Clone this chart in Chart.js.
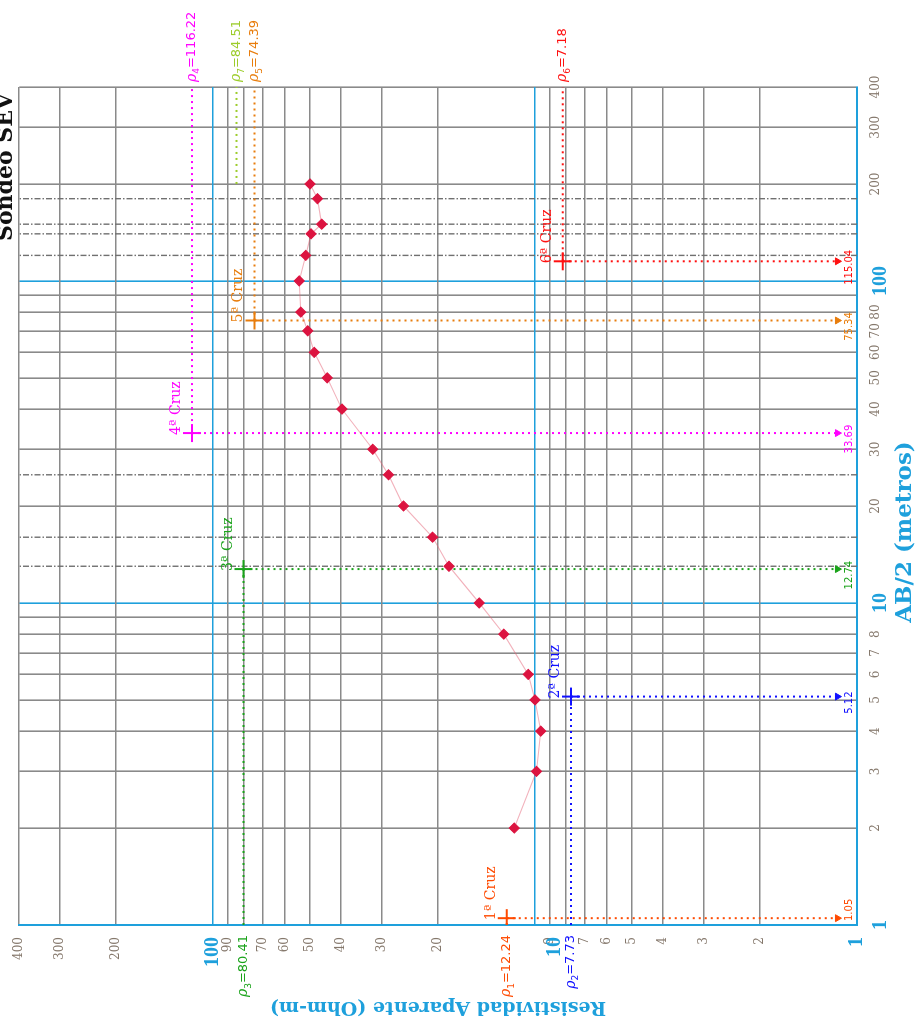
<!DOCTYPE html>
<html>
<head>
<meta charset="utf-8">
<script src="https://cdn.jsdelivr.net/npm/chart.js@4.4.0/dist/chart.umd.min.js"></script>
<style>
html, body { margin: 0; padding: 0; background: #fff; overflow: hidden; }
#wrap { position: relative; width: 920px; height: 1021px; }
#chart { position: absolute; left: 0; top: 0; transform-origin: 0 0; transform: translateY(1021px) rotate(-90deg); }
</style>
</head>
<body>
<div id="wrap"><canvas id="chart" width="1021" height="920"></canvas></div>
<script>
// sounding curve (AB/2 in metres, apparent resistivity in Ohm-m)
var abSpacing = [2, 3, 4, 5, 6, 8, 10, 13, 16, 20, 25, 30, 40, 50, 60, 70, 80, 100, 120, 140, 150, 180, 200];
var rhoApparent = [11.6, 9.9, 9.6, 10.0, 10.5, 12.5, 14.9, 18.5, 20.8, 25.6, 28.5, 31.9, 39.8, 44.2, 48.5, 50.8, 53.4, 54.0, 51.5, 49.6, 46.0, 47.4, 50.0];

// grid / tick labels
var gridValues = [1, 2, 3, 4, 5, 6, 7, 8, 9, 10, 20, 30, 40, 50, 60, 70, 80, 90, 100, 200, 300, 400];
var abTickLabels = [1, 2, 3, 4, 5, 6, 7, 8, 10, 13, 16, 20, 25, 30, 40, 50, 60, 70, 80, 100, 120, 150, 200, 300, 400];
var rhoTickLabels = [1, 2, 3, 4, 5, 6, 7, 9, 20, 30, 40, 50, 60, 70, 90, 100, 200, 300, 400];
var majorValues = [1, 10, 100];
var dashDotAB = [13, 16, 25, 120, 140, 150, 180];

// auxiliary point method ("cruces")
var crossNames = ['1ª Cruz', '2ª Cruz', '3ª Cruz', '4ª Cruz', '5ª Cruz', '6ª Cruz'];
var crossAB = [1.05, 5.12, 12.74, 33.69, 75.34, 115.04];
var crossRho = [12.24, 7.73, 80.41, 116.22, 74.39, 8.2];
var crossAbText = ['1.05', '5.12', '12.74', '33.69', '75.34', '115.04'];
var crossRhoText = ['12.24', '7.73', '80.41', '116.22', '74.39', '7.18'];
var crossColors = ['#ff4a00', '#1010ff', '#1aa31a', '#ff00ff', '#e87d0c', '#ff1010'];

// last layer
var lastLayerAB = [200, 400];
var lastLayerRho = 84.51;
var lastLayerColor = '#9ccc2a';

var BLUE = '#1ea0dc';
var GRAY = '#8a8a8a';

var datasets = [];

datasets.push({
    type: 'line',
    data: abSpacing.map(function (v, i) { return { x: v, y: rhoApparent[i] }; }),
    borderColor: 'rgba(230, 100, 120, 0.5)',
    borderWidth: 1.1,
    pointStyle: 'rectRot',
    pointRadius: 5,
    pointBackgroundColor: '#dc1440',
    pointBorderColor: '#dc1440',
    order: 0
});

for (var v of dashDotAB) {
    datasets.push({
        type: 'line',
        data: [{ x: v, y: 1 }, { x: v, y: 400 }],
        borderColor: '#707070',
        borderWidth: 1.4,
        borderDash: [6, 2, 1.5, 2],
        pointRadius: 0,
        order: 5
    });
}

for (var i = 0; i < crossAB.length; i++) {
    var c = crossColors[i];
    datasets.push({
        type: 'line',
        data: [{ x: crossAB[i], y: crossRho[i] }, { x: crossAB[i], y: 1.14 }],
        borderColor: c, borderWidth: 2, borderDash: [2, 4], pointRadius: 0, order: 3
    });
    var toRight = crossAB[i] > 20;
    datasets.push({
        type: 'line',
        data: toRight ? [{ x: crossAB[i], y: crossRho[i] }, { x: 400, y: crossRho[i] }]
                      : [{ x: 1, y: crossRho[i] }, { x: crossAB[i], y: crossRho[i] }],
        borderColor: c, borderWidth: 2, borderDash: [2, 4], pointRadius: 0, order: 3
    });
    datasets.push({
        type: 'scatter',
        data: [{ x: crossAB[i], y: crossRho[i] }],
        pointStyle: 'cross', pointRadius: 9, pointBorderWidth: 2,
        pointBorderColor: c, pointBackgroundColor: c, order: 1
    });
    datasets.push({
        type: 'scatter',
        data: [{ x: crossAB[i], y: 1.15 }],
        pointStyle: 'triangle', pointRotation: 180, pointRadius: 4, pointBorderWidth: 1,
        pointBorderColor: c, pointBackgroundColor: c, order: 1
    });
}

datasets.push({
    type: 'line',
    data: lastLayerAB.map(function (v) { return { x: v, y: lastLayerRho }; }),
    borderColor: lastLayerColor, borderWidth: 2, borderDash: [2, 4], pointRadius: 0, order: 3
});

function tickFont(ctx) {
    if (ctx.tick && majorValues.indexOf(ctx.tick.value) >= 0) {
        return { family: 'Liberation Serif', size: 20, weight: 'bold' };
    }
    return { family: 'DejaVu Serif', size: 12 };
}
function tickColor(ctx) {
    return ctx.tick && majorValues.indexOf(ctx.tick.value) >= 0 ? BLUE : '#85786c';
}
function gridColor(ctx) {
    return ctx.tick && majorValues.indexOf(ctx.tick.value) >= 0 ? BLUE : GRAY;
}
function setTicks(scale) {
    scale.ticks = gridValues.map(function (v) { return { value: v }; });
}

// rho label: italic rho, subscript, value
function drawRho(ctx, n, text, x, y, align, color) {
    ctx.save();
    ctx.fillStyle = color;
    ctx.textBaseline = 'middle';
    var fMain = '13px "DejaVu Sans"';
    var fIt = 'italic 14px "DejaVu Serif"';
    var fSub = '9px "DejaVu Sans"';
    ctx.font = fIt; var w1 = ctx.measureText('ρ').width;
    ctx.font = fSub; var w2 = ctx.measureText(n).width;
    ctx.font = fMain; var w3 = ctx.measureText('=' + text).width;
    var x0 = align === 'right' ? x - (w1 + w2 + w3) : x;
    ctx.textAlign = 'left';
    ctx.font = fIt; ctx.fillText('ρ', x0, y);
    ctx.font = fSub; ctx.fillText(n, x0 + w1, y + 5);
    ctx.font = fMain; ctx.fillText('=' + text, x0 + w1 + w2, y);
    ctx.restore();
}

var labelPlugin = {
    id: 'labels',
    afterDatasetsDraw: function (chart) {
        var ctx = chart.ctx;
        var xs = chart.scales.x, ys = chart.scales.y;
        var area = chart.chartArea;
        for (var i = 0; i < crossAB.length; i++) {
            var px = xs.getPixelForValue(crossAB[i]);
            var py = ys.getPixelForValue(crossRho[i]);
            var c = crossColors[i];
            ctx.save();
            ctx.fillStyle = c;
            ctx.font = '14px "DejaVu Serif"';
            ctx.textAlign = 'left';
            ctx.textBaseline = 'alphabetic';
            ctx.fillText(crossNames[i], px - 2, py - 12);
            ctx.font = '10px "DejaVu Sans"';
            ctx.textAlign = 'center';
            var tx = Math.max(px - 6, area.left + ctx.measureText(crossAbText[i]).width / 2 + 4);
            ctx.fillText(crossAbText[i], tx, area.bottom - 5);
            ctx.restore();
            if (crossAB[i] > 20) {
                drawRho(ctx, String(i + 1), crossRhoText[i], area.right + 5, py, 'left', c);
            } else {
                drawRho(ctx, String(i + 1), crossRhoText[i], area.left - 10, py, 'right', c);
            }
        }
        drawRho(ctx, '7', lastLayerRho.toFixed(2), area.right + 5, ys.getPixelForValue(lastLayerRho), 'left', lastLayerColor);

        ctx.save();
        // the "10" resistivity label sits a little below its grid line
        ctx.fillStyle = BLUE;
        ctx.font = 'bold 20px "Liberation Serif"';
        ctx.textAlign = 'right';
        ctx.textBaseline = 'middle';
        ctx.fillText('10', area.left - 12, ys.getPixelForValue(10) + 20);

        // axis title for AB/2
        ctx.font = 'bold 23px "DejaVu Serif"';
        ctx.textAlign = 'center';
        ctx.fillText('AB/2 (metros)', 489, 905);

        // chart title, partly cut off at the top edge
        ctx.fillStyle = '#111';
        ctx.font = 'bold 22px "DejaVu Serif"';
        ctx.textAlign = 'right';
        ctx.textBaseline = 'alphabetic';
        ctx.fillText('Sondeo SEV', 928, 12);
        ctx.restore();
    }
};

new Chart(document.getElementById('chart'), {
    data: { datasets: datasets },
    options: {
        responsive: false,
        animation: false,
        layout: { padding: { left: 0, right: 87, top: 17, bottom: 0 } },
        plugins: { legend: { display: false }, tooltip: { enabled: false } },
        scales: {
            x: {
                type: 'logarithmic',
                position: 'bottom',
                min: 1,
                max: 400,
                afterBuildTicks: setTicks,
                afterFit: function (s) { s.height = 63; },
                border: { display: true, color: BLUE, width: 2 },
                grid: { color: gridColor, lineWidth: 1.6, drawTicks: false },
                ticks: {
                    autoSkip: false, maxRotation: 0, minRotation: 0, padding: 12,
                    font: tickFont, color: tickColor,
                    callback: function (value) { return abTickLabels.indexOf(value) >= 0 ? String(value) : ''; }
                }
            },
            y: {
                type: 'logarithmic',
                position: 'left',
                min: 1,
                max: 400,
                afterBuildTicks: setTicks,
                afterFit: function (s) { s.width = 96; },
                border: { display: true, color: BLUE, width: 2 },
                grid: { color: gridColor, lineWidth: 1.6, drawTicks: false },
                ticks: {
                    autoSkip: false, padding: 12,
                    font: tickFont, color: tickColor,
                    callback: function (value) { return rhoTickLabels.indexOf(value) >= 0 ? String(value) : ''; }
                },
                title: {
                    display: true, text: 'Resistividad Aparente (Ohm-m)', color: BLUE, padding: 3,
                    font: { family: 'DejaVu Serif', size: 19, weight: 'bold' }
                }
            }
        }
    },
    plugins: [labelPlugin]
});
</script>
</body>
</html>
